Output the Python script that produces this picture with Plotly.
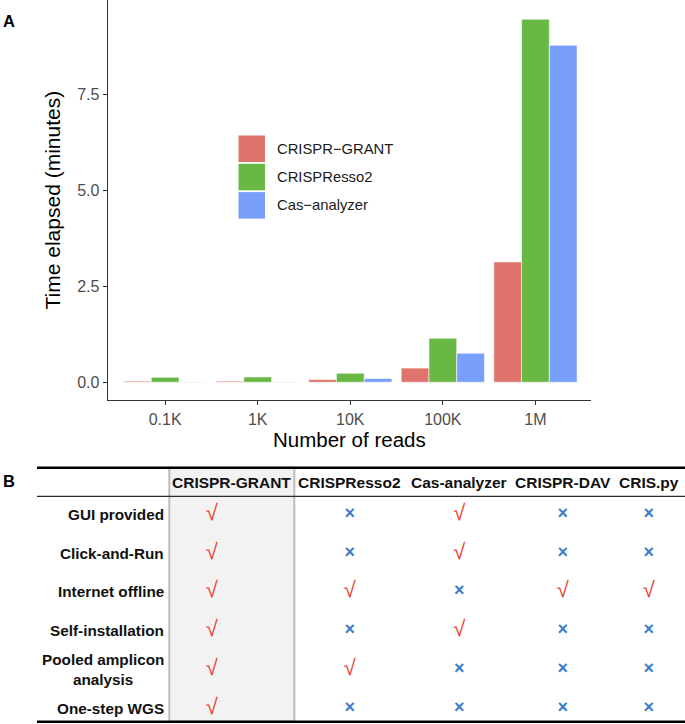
import plotly.graph_objects as go

# ---------------- Data ----------------
categories = ["0.1K", "1K", "10K", "100K", "1M"]
series_names = ["CRISPR-GRANT", "CRISPResso2", "Cas-analyzer"]
grant_minutes = [0.03, 0.03, 0.07, 0.37, 3.14]
resso_minutes = [0.13, 0.14, 0.235, 1.15, 9.47]
cas_minutes = [0.01, 0.01, 0.10, 0.76, 8.79]
series_values = [grant_minutes, resso_minutes, cas_minutes]
y_tick_vals = [0, 2.5, 5.0, 7.5]
y_tick_text = ["0.0", "2.5", "5.0", "7.5"]

tools = ["CRISPR-GRANT", "CRISPResso2", "Cas-analyzer", "CRISPR-DAV", "CRIS.py"]
features = ["GUI provided", "Click-and-Run", "Internet offline",
            "Self-installation", "Pooled amplicon<br>analysis", "One-step WGS"]
# 1 = supported (check), 0 = not supported (cross); one list per tool
support_grant = [1, 1, 1, 1, 1, 1]
support_resso = [0, 0, 1, 0, 1, 0]
support_cas = [1, 1, 0, 1, 0, 0]
support_dav = [0, 0, 1, 0, 0, 0]
support_crispy = [0, 0, 1, 0, 0, 0]
support = [support_grant, support_resso, support_cas, support_dav, support_crispy]

# ---------------- Styling ----------------
W, H = 685, 724
FONT = "Liberation Sans, Arial, Helvetica, sans-serif"
bar_colors = ["#de746b", "#69b845", "#779ffb"]
CHECK_COLOR = "#e8473b"
CROSS_COLOR = "#3d7cc9"


def py(p):  # pixel row -> paper y
    return 1 - p / H


def px(p):  # pixel column -> paper x
    return p / W


fig = go.Figure()

for name, vals, color in zip(series_names, series_values, bar_colors):
    fig.add_trace(go.Bar(
        x=categories, y=vals, name=name, xaxis="x", yaxis="y",
        marker=dict(color=color, line=dict(color="white", width=0.6)),
        showlegend=False, hoverinfo="x+y+name"))

# Table layout (column widths in table units = pixels)
TABLE_LEFT = 37
LABEL_COL_W = 132.3
TOOL_COL_W = [125, 111, 108, 99, 73]
MARK_SHIFT = [-20, 0, 0, 0, 0]
col_edges = [TABLE_LEFT + LABEL_COL_W]
for w in TOOL_COL_W:
    col_edges.append(col_edges[-1] + w)
col_centers = [(col_edges[i] + col_edges[i + 1]) / 2 for i in range(len(tools))]

chk_x, chk_y, crs_x, crs_y = [], [], [], []
for j, tool in enumerate(tools):
    for i, feat in enumerate(features):
        xx = col_centers[j] + MARK_SHIFT[j]
        if support[j][i]:
            chk_x.append(xx); chk_y.append(feat)
        else:
            crs_x.append(xx); crs_y.append(feat)

fig.add_trace(go.Scatter(
    x=chk_x, y=chk_y, mode="text", text=["√"] * len(chk_x),
    textposition="middle center", xaxis="x2", yaxis="y2",
    textfont=dict(family=FONT, size=22, color=CHECK_COLOR),
    showlegend=False, hoverinfo="skip"))
fig.add_trace(go.Scatter(
    x=crs_x, y=crs_y, mode="text", text=["<b>×</b>"] * len(crs_x),
    textposition="middle center", xaxis="x2", yaxis="y2",
    textfont=dict(family=FONT, size=18, color=CROSS_COLOR),
    showlegend=False, hoverinfo="skip"))

shapes = []
annotations = []

# Legend (manual, large keys like ggplot)
LEG_X0, LEG_KEY, LEG_STEP, LEG_TOP = 238.5, 26.5, 28.3, 135.5
for k, (name, color) in enumerate(zip(series_names, bar_colors)):
    top = LEG_TOP + k * LEG_STEP
    shapes.append(dict(type="rect", xref="paper", yref="paper",
                       x0=px(LEG_X0), x1=px(LEG_X0 + LEG_KEY),
                       y0=py(top + LEG_KEY), y1=py(top),
                       fillcolor=color, line=dict(width=0)))
    annotations.append(dict(xref="paper", yref="paper", x=px(274.5),
                            y=py(top + LEG_KEY / 2), text=name.replace("-", "−"),
                            showarrow=False, xanchor="left", yanchor="middle",
                            font=dict(family=FONT, size=14.8, color="#1a1a1a")))

# Table decorations
TOP_RULE, HEAD_RULE, BOT_RULE = 467.7, 496.3, 721.7
shapes.append(dict(type="rect", xref="x2", yref="paper",
                   x0=col_edges[0], x1=col_edges[1], y0=py(BOT_RULE), y1=py(TOP_RULE),
                   fillcolor="#f2f2f2", line=dict(color="#bdbdbd", width=2), layer="below"))
for yy, wdt, c in [(TOP_RULE, 2.6, "#000000"), (HEAD_RULE, 1.3, "#2a2a2a"), (BOT_RULE, 2.6, "#000000")]:
    shapes.append(dict(type="line", xref="x2", yref="paper", x0=TABLE_LEFT, x1=W,
                       y0=py(yy), y1=py(yy), line=dict(color=c, width=wdt)))

for j, tool in enumerate(tools):
    annotations.append(dict(xref="x2", yref="paper", x=col_centers[j], y=py(482),
                            text="<b>%s</b>" % tool, showarrow=False,
                            xanchor="center", yanchor="middle",
                            font=dict(family=FONT, size=15.5, color="#111111")))
for feat in features:
    annotations.append(dict(xref="x2", yref="y2", x=col_edges[0] - 3.5, y=feat,
                            text="<b>%s</b>" % feat, showarrow=False,
                            xanchor="right", yanchor="middle", align="center",
                            font=dict(family=FONT, size=15.3, color="#111111")))

# Panel labels
annotations.append(dict(xref="paper", yref="paper", x=px(0.5), y=py(21), text="<b>A</b>",
                        showarrow=False, xanchor="left", yanchor="middle",
                        font=dict(family=FONT, size=16.5, color="black")))
annotations.append(dict(xref="paper", yref="paper", x=px(0.5), y=py(481), text="<b>B</b>",
                        showarrow=False, xanchor="left", yanchor="middle",
                        font=dict(family=FONT, size=16.5, color="black")))

fig.update_layout(
    width=W, height=H, margin=dict(l=0, r=0, t=0, b=0),
    paper_bgcolor="white", plot_bgcolor="white",
    barmode="group", bargap=0.1, bargroupgap=0,
    font=dict(family=FONT),
    xaxis=dict(domain=[px(107.7), px(591)], anchor="y", range=[-0.62, 4.6],
               showline=True, linecolor="#333333", linewidth=1.2,
               ticks="outside", ticklen=4, tickcolor="#333333", tickwidth=1.1,
               tickfont=dict(size=16, color="#4d4d4d"), showgrid=False, zeroline=False,
               title=dict(text="Number of reads", font=dict(size=20.5, color="black"), standoff=3),
               fixedrange=True),
    yaxis=dict(domain=[py(400.3), 1], anchor="x", range=[-0.47, 9.97],
               tickvals=y_tick_vals, ticktext=y_tick_text,
               showline=True, linecolor="#333333", linewidth=1.2,
               ticks="outside", ticklen=4, tickcolor="#333333", tickwidth=1.1,
               tickfont=dict(size=16, color="#4d4d4d"), showgrid=False, zeroline=False,
               title=dict(text="Time elapsed (minutes)", font=dict(size=21, color="black"), standoff=10),
               fixedrange=True),
    xaxis2=dict(domain=[0, 1], anchor="y2", range=[0, W], visible=False, fixedrange=True),
    yaxis2=dict(domain=[py(BOT_RULE), py(HEAD_RULE)], anchor="x2", type="category",
                categoryorder="array", categoryarray=features,
                range=[5.345, -0.464], visible=False, fixedrange=True),
    shapes=shapes, annotations=annotations,
)

fig.write_html("out.html", config={"displayModeBar": False},
               post_script="document.body.style.margin='0';document.body.style.overflow='hidden';")
